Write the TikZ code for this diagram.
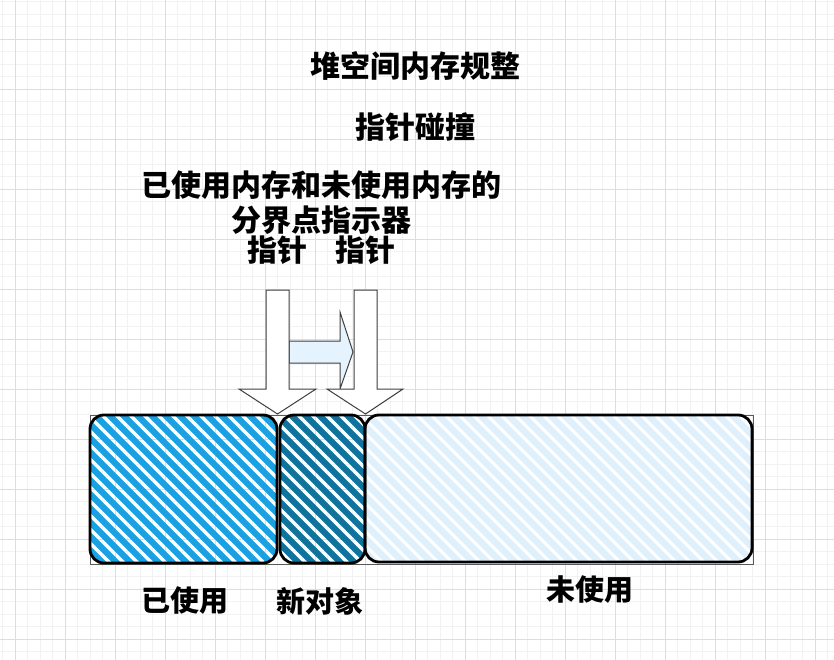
\documentclass[tikz,border=0pt]{standalone}
\usepackage{fontspec}
\setmainfont{Noto Sans CJK SC}
\definecolor{gridminor}{HTML}{F2F2F2}
\definecolor{gridmajor}{HTML}{DDDDDD}
\definecolor{usedblue}{HTML}{1BA1E2}
\definecolor{newblue}{HTML}{10739E}
\definecolor{freeblue}{HTML}{DDF0FC}
\definecolor{midfill}{HTML}{E4F3FD}
\tikzset{
  txt/.style={inner sep=0pt, font=\fontsize{30}{34}\selectfont\bfseries},
  lbl/.style={inner sep=0pt, font=\fontsize{29}{33}\selectfont\bfseries},
  blockarrow/.style={fill=white, draw=black!75, line width=1},
  midarrow/.style={fill=midfill, draw=black!75, line width=1},
  memborder/.style={draw=black, line width=2.8, rounded corners=14},
  outerframe/.style={draw=black!65, line width=0.8},
  hatchused/.style={draw=usedblue, line width=6.2, line cap=round},
  hatchnew/.style={draw=newblue, line width=6.2, line cap=round},
  hatchfree/.style={draw=white, line width=3},
}
\newcommand\hatchfill[5]{%
  \begin{scope}
    \clip[rounded corners=14] (#1,#2) rectangle (#3,#4);
    \foreach \s in {-200,-186,...,800}
      \draw[#5] (\s,400) -- ++(180,180);
  \end{scope}}
\begin{document}
\begin{tikzpicture}[x=1pt,y=-1pt]
\useasboundingbox (0,0) rectangle (834,660);
\fill[white] (0,0) rectangle (834,660);
% grid
\foreach \i in {0,...,66} \draw[gridminor, line width=0.8] ({2.5+12.5*\i},0) -- ++(0,660);
\foreach \i in {0,...,52} \draw[gridminor, line width=0.8] (0,{1.8+12.5*\i}) -- ++(834,0);
\foreach \i in {0,...,16} \draw[gridmajor, line width=0.8] ({15+50*\i},0) -- ++(0,660);
\foreach \i in {0,...,13} \draw[gridmajor, line width=0.8] (0,{-10.7+50*\i}) -- ++(834,0);

% texts
\node[txt] (title) at (415,66) {堆空间内存规整};
\node[txt] (sub) at (415,127) {指针碰撞};
\node[txt] (line1) at (321,185) {已使用内存和未使用内存的};
\node[txt] (line2) at (321,220) {分界点指示器};
\node[txt] (ptra) at (277,250) {指针};
\node[txt] (ptrb) at (365,250) {指针};

% memory area
\draw[outerframe] (90,415) rectangle (753,564);
\hatchfill{90}{415}{277}{563}{hatchused}
\begin{scope}
  \clip[rounded corners=14] (365,415) rectangle (752,562);
  \fill[freeblue] (365,415) rectangle (752,562);
  \foreach \s in {-200,-186,...,800} \draw[hatchfree] (\s,400) -- ++(180,180);
\end{scope}
\hatchfill{280}{415}{365}{563}{hatchnew}
\draw[memborder] (90,415) rectangle (277,563);
\draw[memborder] (365,415) rectangle (752,562);
\draw[memborder] (280,415) rectangle (365,563);

% arrows
\draw[midarrow] (289,341) -- (340,341) -- (340,312) -- (353,352) -- (340,389) -- (340,363) -- (289,363) -- cycle;
\draw[blockarrow] (266,290) -- (289,290) -- (289,389) -- (316,389) -- (277.5,414) -- (239,389) -- (266,389) -- cycle;
\draw[blockarrow] (354,290) -- (377,290) -- (377,389) -- (403,389) -- (365.5,414) -- (327,389) -- (354,389) -- cycle;

% labels
\node[lbl] (usedlbl) at (185,601) {已使用};
\node[lbl] (newlbl) at (320,601) {新对象};
\node[lbl] (freelbl) at (590,590) {未使用};
\end{tikzpicture}
\end{document}
